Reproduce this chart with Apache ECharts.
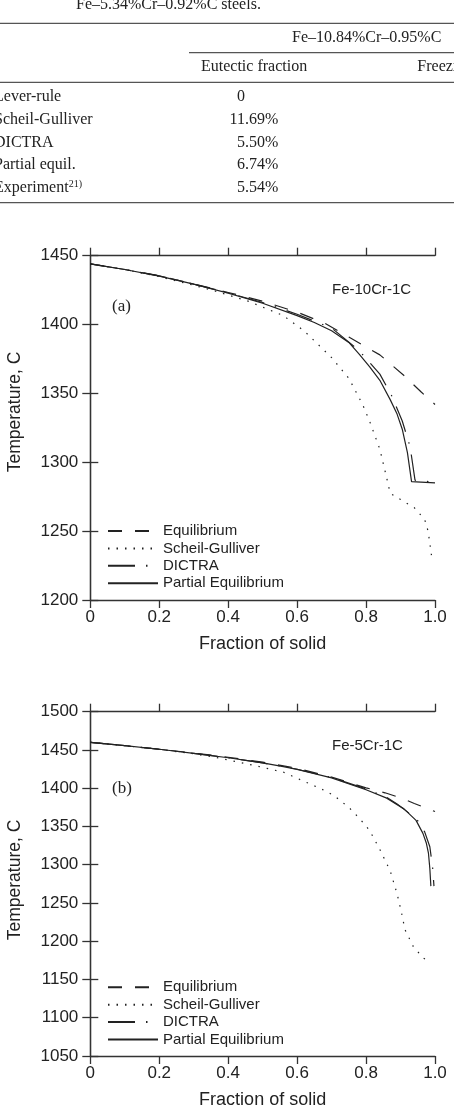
<!DOCTYPE html>
<html>
<head>
<meta charset="utf-8">
<script src="https://cdn.jsdelivr.net/npm/echarts@6/dist/echarts.min.js"></script>
<style>
  html, body { margin: 0; padding: 0; background: #fff; }
  #main { width: 454px; height: 1112px; }
</style>
</head>
<body>
<div id="main"></div>
<script>
// table (cropped piece of the page above the figure)
const tableCaption = 'Fe–5.34%Cr–0.92%C steels.';
const tableGroup = 'Fe–10.84%Cr–0.95%C';
const tableColumns = ['Eutectic fraction', 'Freezing range'];
const tableRows = ['Lever-rule', 'Scheil-Gulliver', 'DICTRA', 'Partial equil.', 'Experiment'];
const tableRefs = ['', '', '', '', '21)'];
const eutecticFraction = ['0', '11.69%', '5.50%', '6.74%', '5.54%'];

const seriesNames = ['Equilibrium', 'Scheil-Gulliver', 'DICTRA', 'Partial Equilibrium'];

// (a) Fe-10Cr-1C : [fraction of solid, temperature C]
const eqA = [[0,1444],[0.1,1440],[0.2,1435.4],[0.3,1429.5],[0.4,1423.3],[0.5,1417],[0.6,1409],[0.68,1401],[0.75,1391],[0.84,1378],[0.91,1363],[0.96,1351],[1.0,1342]];
const scheilA = [[0,1444],[0.1,1440],[0.2,1434.8],[0.3,1428.5],[0.37,1423.8],[0.46,1416.8],[0.56,1406.5],[0.62,1395.5],[0.7,1376],[0.75,1361],[0.79,1342],[0.81,1330],[0.84,1309.5],[0.86,1288.5],[0.87,1277.5],[0.9,1273],[0.94,1267],[0.97,1258.5],[0.98,1250],[0.99,1232]];
const dictraA = [[0,1444],[0.1,1440],[0.2,1435.3],[0.3,1429.4],[0.4,1423],[0.5,1416],[0.6,1407.5],[0.7,1397.5],[0.78,1381],[0.84,1364],[0.875,1348],[0.905,1330],[0.928,1311],[0.942,1287],[1.0,1285.5]];
const partialA = [[0,1444],[0.1,1440],[0.2,1435.2],[0.3,1429.3],[0.4,1422.8],[0.5,1415.5],[0.6,1406.5],[0.65,1401.5],[0.7,1395.5],[0.75,1387],[0.78,1378.5],[0.81,1369.5],[0.84,1359.5],[0.87,1345.5],[0.89,1335],[0.905,1324],[0.92,1307],[0.932,1286],[1.0,1285]];

// (b) Fe-5Cr-1C
const eqB = [[0,1460],[0.1,1455.6],[0.2,1451],[0.3,1446],[0.4,1440.5],[0.5,1434],[0.6,1426],[0.7,1414.5],[0.8,1400.5],[0.855,1394],[0.9,1387.5],[0.94,1380],[0.976,1373.7],[1.0,1369.5]];
const scheilB = [[0,1460],[0.1,1455.6],[0.2,1450.8],[0.3,1445],[0.367,1440],[0.463,1431],[0.56,1421],[0.62,1409],[0.666,1400],[0.705,1391],[0.75,1375],[0.782,1360],[0.81,1345],[0.84,1320],[0.87,1292],[0.89,1262],[0.903,1237],[0.913,1215],[0.937,1193],[0.966,1178],[0.985,1173]];
const dictraB = [[0,1460],[0.1,1455.6],[0.2,1450.9],[0.3,1445.6],[0.4,1439.8],[0.5,1433],[0.56,1428.2],[0.6,1424.8],[0.7,1414],[0.8,1399],[0.86,1388],[0.89,1379.5],[0.947,1359.5],[0.97,1343],[0.985,1323.5],[0.993,1297],[0.997,1272]];
const partialB = [[0,1460],[0.1,1455.6],[0.2,1450.9],[0.3,1445.6],[0.4,1439.8],[0.5,1433],[0.56,1428.2],[0.6,1424.6],[0.7,1413.5],[0.8,1398],[0.86,1387],[0.91,1373],[0.945,1358],[0.965,1341],[0.975,1328],[0.981,1315],[0.985,1295],[0.988,1272]];

const dashes = {
  'Equilibrium': [14, 13],
  'Scheil-Gulliver': [1.5, 7],
  'DICTRA': [27, 11, 1.5, 11],
  'Partial Equilibrium': 'solid'
};
const ink = '#222';
const sans = 'Liberation Sans';
const serif = 'Liberation Serif';

function lineSeries(name, data, gi) {
  return {
    name: name,
    type: 'line',
    xAxisIndex: gi * 2,
    yAxisIndex: gi * 2,
    data: data,
    symbol: 'none',
    showSymbol: false,
    lineStyle: { color: ink, width: 1.2, type: dashes[name] },
    itemStyle: { color: ink },
    z: name === 'Partial Equilibrium' ? 4 : 3
  };
}

function xAxes(gi) {
  const base = {
    gridIndex: gi, type: 'value', min: 0, max: 1, interval: 0.2,
    axisLine: { lineStyle: { color: '#333', width: 1.3 } },
    axisTick: { inside: false, length: 8, lineStyle: { color: '#333', width: 1.3 } },
    splitLine: { show: false }
  };
  return [
    Object.assign({}, base, {
      position: 'bottom',
      axisLabel: {
        margin: 9, fontSize: 17, fontFamily: sans, color: ink,
        formatter: v => v === 0 ? '0' : v.toFixed(1)
      },
      name: 'Fraction of solid', nameLocation: 'middle', nameGap: 35,
      nameTextStyle: { fontSize: 18, fontFamily: sans, color: ink }
    }),
    Object.assign({}, base, { position: 'top', axisLabel: { show: false } })
  ];
}

function yAxes(gi, min, max) {
  const base = {
    gridIndex: gi, type: 'value', min: min, max: max, interval: 50,
    axisLine: { lineStyle: { color: '#333', width: 1.3 } },
    axisTick: { inside: false, length: 8, lineStyle: { color: '#333', width: 1.3 } },
    splitLine: { show: false }
  };
  return [
    Object.assign({}, base, {
      position: 'left',
      axisLabel: { margin: 12, fontSize: 17, fontFamily: sans, color: ink, formatter: v => String(v) }
    }),
    Object.assign({}, base, { position: 'right', axisLabel: { show: false } })
  ];
}

function legendAt(top) {
  return {
    data: seriesNames, orient: 'vertical', left: 102, top: top,
    itemWidth: 50, itemHeight: 12, itemGap: 2.4, selectedMode: false,
    itemStyle: { opacity: 0 },
    textStyle: { fontSize: 15, fontFamily: sans, color: ink }
  };
}

function txt(text, x, y, opts) {
  return {
    type: 'text', x: x, y: y, silent: true,
    rotation: (opts && opts.rotation) || 0,
    style: Object.assign({
      text: text, fill: ink, fontSize: 16, fontFamily: serif,
      align: 'left', verticalAlign: 'middle'
    }, (opts && opts.style) || {})
  };
}

function hline(x1, x2, y) {
  return {
    type: 'line', silent: true,
    shape: { x1: x1, y1: y, x2: x2, y2: y },
    style: { stroke: '#555', lineWidth: 1.3 }
  };
}

// table drawn with graphic elements
const graphics = [
  txt(tableCaption, 76, 4.6),
  hline(0, 454, 23.3),
  txt(tableGroup, 366.7, 37.7, { style: { align: 'center' } }),
  hline(189, 454, 52.7),
  txt(tableColumns[0], 201, 66.7),
  txt(tableColumns[1], 417.3, 66.7),
  hline(0, 454, 82.3),
  hline(0, 454, 202.7)
];
const rowY = [96.7, 119.3, 142.3, 165, 187.7];
tableRows.forEach((r, i) => {
  graphics.push(txt(r + (tableRefs[i] ? '{sup|' + tableRefs[i] + '}' : ''), -6, rowY[i], {
    style: { rich: { sup: { fontSize: 10, fontFamily: serif, fill: ink, verticalAlign: 'top' } } }
  }));
  const parts = eutecticFraction[i].split('.');
  graphics.push(txt(parts[0], 245, rowY[i], { style: { align: 'right' } }));
  if (parts.length > 1) graphics.push(txt('.' + parts[1], 245, rowY[i]));
});

// annotations inside the panels
graphics.push(
  txt('Fe-10Cr-1C', 332, 290, { style: { fontFamily: sans, fontSize: 15 } }),
  txt('(a)', 112, 307, { style: { fontSize: 17 } }),
  txt('Fe-5Cr-1C', 332, 746, { style: { fontFamily: sans, fontSize: 15 } }),
  txt('(b)', 112, 789, { style: { fontSize: 17 } }),
  txt('Temperature, C', 15, 412, { rotation: Math.PI / 2, style: { fontFamily: sans, fontSize: 17.5, align: 'center' } }),
  txt('Temperature, C', 15, 880, { rotation: Math.PI / 2, style: { fontFamily: sans, fontSize: 17.5, align: 'center' } })
);

const chart = echarts.init(document.getElementById('main'), null, { renderer: 'canvas' });
const option = {
  animation: false,
  backgroundColor: '#fff',
  textStyle: { fontFamily: sans },
  grid: [
    { left: 90.3, top: 255.7, width: 344.7, height: 344.3 },
    { left: 90.3, top: 711.7, width: 344.7, height: 344.3 }
  ],
  xAxis: xAxes(0).concat(xAxes(1)),
  yAxis: yAxes(0, 1200, 1450).concat(yAxes(1, 1050, 1500)),
  legend: [legendAt(518.5), legendAt(974.8)],
  series: [
    lineSeries('Equilibrium', eqA, 0),
    lineSeries('Scheil-Gulliver', scheilA, 0),
    lineSeries('DICTRA', dictraA, 0),
    lineSeries('Partial Equilibrium', partialA, 0),
    lineSeries('Equilibrium', eqB, 1),
    lineSeries('Scheil-Gulliver', scheilB, 1),
    lineSeries('DICTRA', dictraB, 1),
    lineSeries('Partial Equilibrium', partialB, 1)
  ],
  graphic: graphics
};
chart.setOption(option);
</script>
</body>
</html>
